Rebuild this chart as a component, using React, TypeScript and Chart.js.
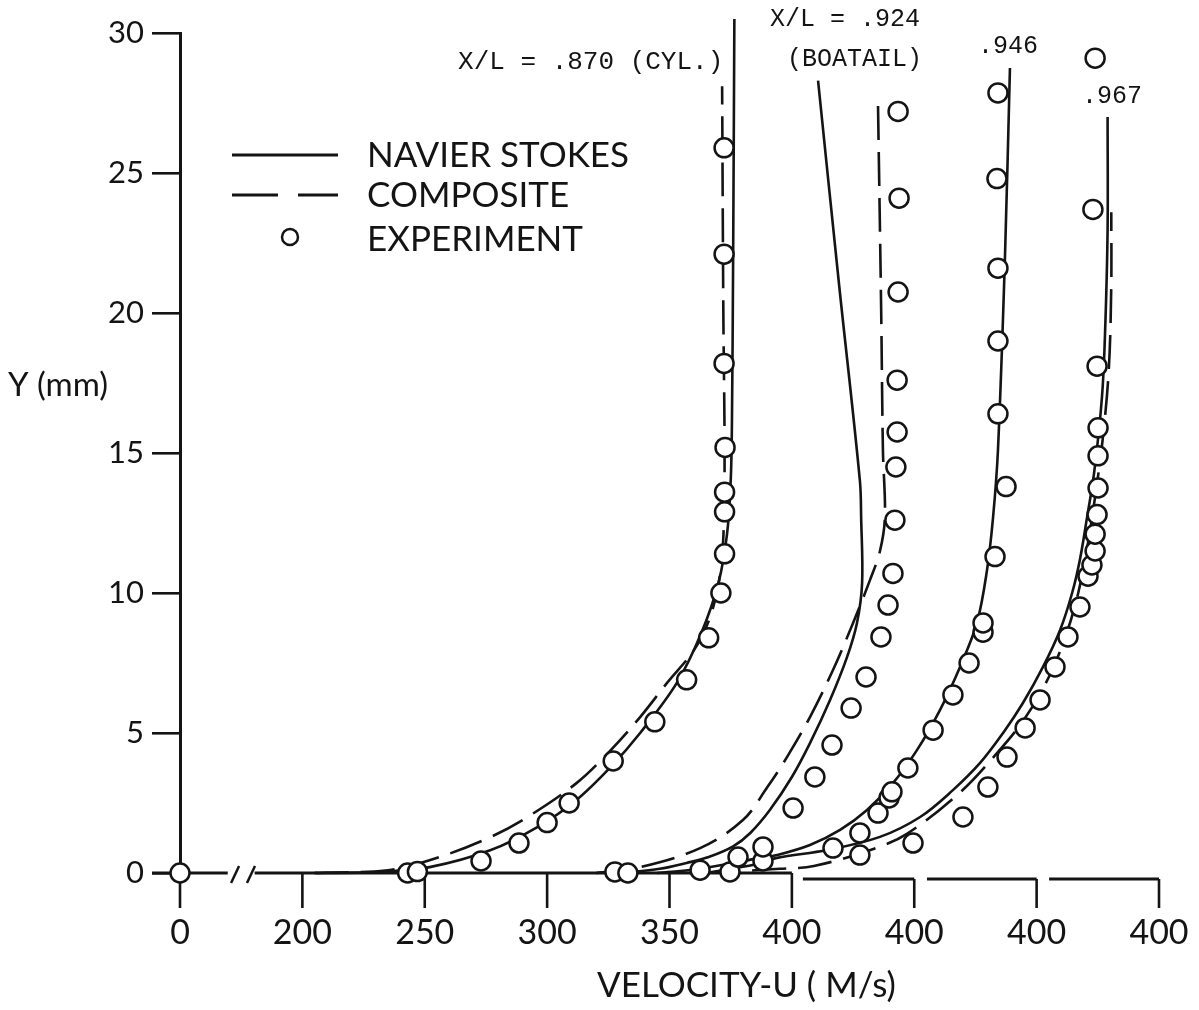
import React, { useEffect, useRef } from "react";
import { Chart, registerables } from "chart.js";

Chart.register(...registerables);

// ---------------- data ----------------
// Display positions of the x ticks (axis is broken after 0; every later
// profile is shifted by 50 m/s and has its own "400" tick).
const X_TICK_POSITIONS = [150, 200, 250, 300, 350, 400, 450, 500, 550];
const X_TICK_LABELS = ["0", "200", "250", "300", "350", "400", "400", "400", "400"];
const Y_TICKS = [0, 5, 10, 15, 20, 25, 30];
const ZERO_POSITION = 150; // where u = 0 sits on the broken axis
const PROFILE_OFFSETS = [0, 50, 100, 150]; // shift of each station's profile
const STATION_LABELS = ["X/L = .870 (CYL.)", "X/L = .924", "(BOATAIL)", ".946", ".967"];
const SERIES_NAMES = ["NAVIER STOKES", "COMPOSITE", "EXPERIMENT"];
const X_TITLE = "VELOCITY-U ( M/s)";
const Y_TITLE = "Y (mm)";

// [u (m/s), y (mm)]
const NS_870 = [[205, 0], [230, 0.03], [252, 0.21], [277, 0.82], [296, 1.64], [312, 2.61], [326, 3.79], [338, 5.0], [353, 6.79], [363, 8.57], [370, 10.36], [373.5, 12.1], [375, 14], [375.5, 16], [376, 22], [376.5, 30.5]];
const COMP_870 = [[205, 0], [235, 0.1], [256, 0.57], [277, 1.29], [292, 2.0], [312, 3.21], [326, 4.39], [338, 5.57], [349, 6.79], [360, 7.96], [366, 9.0], [370, 10.3], [372, 12], [372.5, 15], [372, 20], [371.5, 28.1]];
const EXP_870 = [[0, 0], [243, 0], [247, 0.05], [273, 0.43], [288.5, 1.07], [300, 1.8], [309, 2.5], [327, 4.0], [344, 5.4], [357, 6.9], [366, 8.4], [371, 10.0], [372.5, 11.4], [372.5, 12.9], [372.5, 13.6], [372.7, 15.2], [372.3, 18.2], [372.3, 22.1], [372.3, 25.9]];

const NS_924 = [[280, 0], [296, 0.15], [307, 0.36], [316, 0.57], [326, 0.95], [333, 1.43], [341, 2.25], [350, 3.43], [357.4, 4.64], [365.6, 6.18], [372.5, 7.7], [376.6, 8.93], [378.7, 10.36], [378.3, 12.7], [377.8, 14.0], [369.3, 21.0], [360.7, 28.3]];
const COMP_924 = [[270, 0], [288, 0.21], [312.5, 0.89], [330, 1.89], [340, 3.07], [348, 4.14], [357.4, 5.57], [366.8, 7.25], [375, 8.93], [381.9, 10.46], [386, 11.5], [388, 12.7], [387.2, 15.1], [386.5, 20], [385.2, 27.4]];
const EXP_924 = [[277.7, 0.04], [283, 0], [328, 0.57], [338.2, 0.93], [350.5, 2.32], [359.4, 3.43], [366.4, 4.57], [374.2, 5.89], [380.3, 7.0], [386.4, 8.43], [389.3, 9.57], [391.3, 10.7], [392.1, 12.6], [392.5, 14.5], [393, 15.75], [393, 17.6], [393.4, 20.75], [393.8, 24.1], [393.4, 27.2]];

const NS_946 = [[245, 0], [262.5, 0.15], [287, 0.54], [293.9, 0.64], [307.4, 1.0], [319.7, 1.54], [330.7, 2.25], [341.3, 3.21], [351.1, 4.39], [360.5, 5.82], [368.7, 7.36], [375.6, 8.93], [379.7, 10.8], [382.2, 12.7], [384.2, 15.1], [387, 21.8], [389.1, 28.75]];
const EXP_946 = [[262.5, 0.1], [274.7, 0.04], [288.2, 0.43], [316.8, 0.89], [327.8, 1.43], [335.2, 2.14], [339.7, 2.68], [340.9, 2.9], [347.4, 3.75], [357.7, 5.1], [365.8, 6.36], [372.4, 7.5], [378.1, 8.6], [378.1, 8.93], [383, 11.3], [387.5, 13.8], [384.2, 16.4], [384.2, 19.0], [384.2, 21.6], [383.8, 24.8], [384.2, 27.86]];

const NS_967 = [[215, 0], [235, 0.3], [243.9, 0.54], [264.4, 0.82], [286, 1.29], [302.4, 2.0], [315.8, 2.96], [326.9, 3.93], [336.3, 5.0], [344.4, 6.07], [352.6, 7.36], [359.6, 8.68], [364.5, 10.0], [367.7, 11.2], [370.6, 12.7], [373.5, 14.3], [376.7, 17.0], [378, 19.4], [379, 23], [379, 27]];
const COMP_967 = [[215, 0], [245, 0.15], [259, 0.25], [283, 0.85], [297, 1.4], [319, 2.9], [333, 4.2], [345, 5.5], [355, 7.0], [362, 8.5], [367, 10.0], [371, 11.8], [374, 13.5], [377, 15.5], [379.5, 18], [380.5, 21], [380.5, 23.6]];
const EXP_967 = [[277.8, 0.64], [299.5, 1.07], [319.9, 2.0], [330.1, 3.07], [337.9, 4.14], [345.3, 5.18], [351.4, 6.18], [357.5, 7.36], [362.8, 8.43], [367.7, 9.5], [371, 10.6], [372.6, 11.0], [373.9, 11.5], [373.9, 12.1], [374.7, 12.8], [375.1, 13.75], [375.1, 14.9], [375.1, 15.9], [374.7, 18.1], [373, 23.7], [373.9, 29.1]];

const NS_SERIES = [NS_870, NS_924, NS_946, NS_967];
const COMP_SERIES = [COMP_870, COMP_924, null, COMP_967];
const EXP_SERIES = [EXP_870, EXP_924, EXP_946, EXP_967];

// ---------------- styling ----------------
const INK = "#141414";
const SANS = "Lato, 'Noto Sans', sans-serif";
const MONO = "'Liberation Mono', 'DejaVu Sans Mono', monospace";
const DASH = [34, 12];

const toAxis = (pts: number[][], k: number) =>
  pts.map(([u, y]) => ({ x: u === 0 ? ZERO_POSITION : u + PROFILE_OFFSETS[k], y }));

const decorPlugin = {
  id: "decor",
  beforeDatasetsDraw(chart: any) {
    const { ctx, chartArea, scales } = chart;
    const xs = scales.x;
    const px = (v: number) => xs.getPixelForValue(v);
    const b = chartArea.bottom;
    ctx.save();
    ctx.strokeStyle = INK;
    ctx.lineWidth = 3;
    ctx.lineCap = "butt";
    const seg = (x0: number, x1: number, y: number) => {
      ctx.beginPath();
      ctx.moveTo(x0, y);
      ctx.lineTo(x1, y);
      ctx.stroke();
    };
    // main axis with break after 0
    seg(chartArea.left - 28, px(169.5), b);
    seg(px(180.5), px(400), b);
    ctx.lineWidth = 2.5;
    [px(172.5), px(179)].forEach((x) => {
      ctx.beginPath();
      ctx.moveTo(x - 4, b + 10);
      ctx.lineTo(x + 4, b - 7);
      ctx.stroke();
    });
    ctx.lineWidth = 3;
    // shifted axis pieces, one per later station
    const low = b + 6;
    seg(px(404.5), px(450), low);
    seg(px(455.2), px(500), low);
    seg(px(505.1), px(550), low);
    // ticks
    ctx.lineWidth = 2.6;
    X_TICK_POSITIONS.forEach((v) => {
      const x = px(v);
      const y0 = v > 400 ? low : b;
      ctx.beginPath();
      ctx.moveTo(x, y0);
      ctx.lineTo(x, b + 35);
      ctx.stroke();
    });
    ctx.restore();
  },
  afterDraw(chart: any) {
    const { ctx, chartArea, scales } = chart;
    const xs = scales.x;
    const ys = scales.y;
    ctx.save();
    ctx.fillStyle = INK;
    ctx.strokeStyle = INK;
    ctx.textBaseline = "middle";
    ctx.textAlign = "left";
    // station labels
    const st: [number, number][] = [[263.6, 28.96], [391.1, 30.5], [398, 29.07], [476, 29.54], [518.5, 27.75]];
    STATION_LABELS.forEach((t, i) => {
      ctx.font = i === 0 ? `26px ${MONO}` : `25px ${MONO}`;
      ctx.fillText(t, xs.getPixelForValue(st[i][0]), ys.getPixelForValue(st[i][1]));
    });
    // legend
    const lx = chartArea.left + 52;
    const ly = chartArea.top + 122;
    ctx.lineWidth = 3;
    ctx.beginPath();
    ctx.moveTo(lx, ly);
    ctx.lineTo(lx + 106, ly);
    ctx.stroke();
    ctx.beginPath();
    ctx.moveTo(lx, ly + 40);
    ctx.lineTo(lx + 46, ly + 40);
    ctx.moveTo(lx + 66, ly + 40);
    ctx.lineTo(lx + 106, ly + 40);
    ctx.stroke();
    ctx.lineWidth = 2.5;
    ctx.beginPath();
    ctx.arc(lx + 58, ly + 82, 8, 0, Math.PI * 2);
    ctx.stroke();
    ctx.font = `35px ${SANS}`;
    ctx.fillText(SERIES_NAMES[0], lx + 135, ly + 1);
    ctx.fillText(SERIES_NAMES[1], lx + 135, ly + 41);
    ctx.fillText(SERIES_NAMES[2], lx + 135, ly + 85);
    // axis titles
    ctx.font = `35px ${SANS}`;
    ctx.fillText(X_TITLE, 597, 986);
    ctx.font = `33px ${SANS}`;
    ctx.fillText(Y_TITLE, 8, 385);
    ctx.restore();
  },
};

export default function App() {
  const ref = useRef<HTMLCanvasElement | null>(null);
  useEffect(() => {
    document.body.style.margin = "0";
    if (!ref.current) return;
    const datasets: any[] = [];
    EXP_SERIES.forEach((s, k) => {
      datasets.push({
        label: `EXP ${k}`,
        data: toAxis(s, k),
        showLine: false,
        pointRadius: 9.5,
        pointBorderWidth: 2.5,
        pointBackgroundColor: "#ffffff",
        pointBorderColor: INK,
        clip: false,
        order: 0,
      });
    });
    NS_SERIES.forEach((s, k) => {
      datasets.push({
        label: `NS ${k}`,
        data: toAxis(s, k),
        showLine: true,
        borderColor: INK,
        borderWidth: 2.6,
        pointRadius: 0,
        tension: 0.35,
        clip: false,
        order: 1,
      });
    });
    COMP_SERIES.forEach((s, k) => {
      if (!s) return;
      datasets.push({
        label: `COMP ${k}`,
        data: toAxis(s, k),
        showLine: true,
        borderColor: INK,
        borderWidth: 2.6,
        borderDash: DASH,
        pointRadius: 0,
        tension: 0.35,
        clip: false,
        order: 1,
      });
    });

    const chart = new Chart(ref.current, {
      type: "scatter",
      data: { datasets },
      plugins: [decorPlugin],
      options: {
        animation: false,
        responsive: false,
        layout: { padding: { top: 33, right: 40, left: 0, bottom: 0 } },
        plugins: { legend: { display: false }, tooltip: { enabled: false } },
        scales: {
          x: {
            type: "linear",
            min: 150,
            max: 550,
            grid: { display: false, drawTicks: true, tickLength: 38 },
            border: { display: false },
            afterBuildTicks: (s: any) => {
              s.ticks = X_TICK_POSITIONS.map((v) => ({ value: v }));
            },
            afterFit: (s: any) => {
              s.height = 137;
            },
            ticks: {
              autoSkip: false,
              maxRotation: 0,
              padding: 2,
              color: INK,
              font: { family: SANS, size: 34 },
              callback: (_v: any, i: number) => X_TICK_LABELS[i],
            },
          },
          y: {
            type: "linear",
            min: 0,
            max: 30,
            grid: {
              display: true,
              drawOnChartArea: false,
              drawTicks: true,
              tickLength: 28,
              color: INK,
              lineWidth: 2.6,
            },
            border: { display: true, color: INK, width: 3 },
            afterBuildTicks: (s: any) => {
              s.ticks = Y_TICKS.map((v) => ({ value: v }));
            },
            afterFit: (s: any) => {
              s.width = 180;
            },
            ticks: {
              padding: 8,
              color: INK,
              font: { family: SANS, size: 31 },
            },
          },
        },
      },
    });
    return () => chart.destroy();
  }, []);
  return (
    <div style={{ width: 1199, height: 1010, background: "#fff" }}>
      <canvas ref={ref} width={1199} height={1010} style={{ display: "block" }} />
    </div>
  );
}
